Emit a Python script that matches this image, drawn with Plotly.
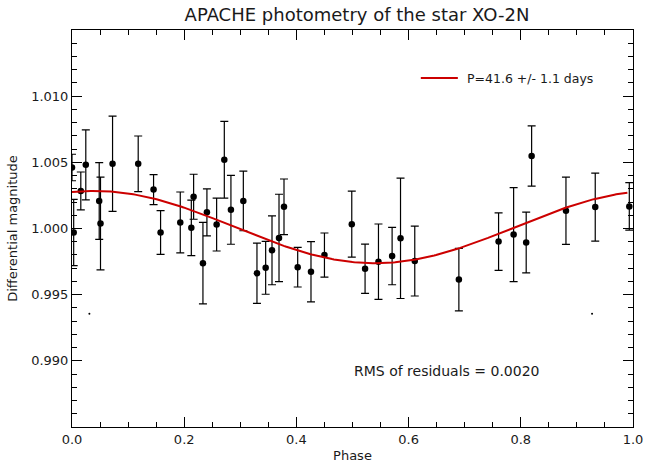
import numpy as np
import plotly.graph_objects as go

# ---- data ----
phase = [0.000, 0.003, 0.0157, 0.0246, 0.0485, 0.0508, 0.0723, 0.118, 0.1454, 0.1579,
         0.193, 0.2127, 0.2168, 0.2334, 0.2405, 0.2578, 0.2715, 0.2833, 0.3054, 0.3297,
         0.3452, 0.3565, 0.369, 0.3779, 0.4023, 0.426, 0.450, 0.4987, 0.5224, 0.5463,
         0.5706, 0.5856, 0.611, 0.6896, 0.7604, 0.7872, 0.8096, 0.8193, 0.8805, 0.9327,
         0.9934]
dmag = [1.00461, 0.99970, 1.00284, 1.00481, 1.00208, 1.00038, 1.00489, 1.00489, 1.00294, 0.99970,
        1.00046, 1.00005, 1.00240, 0.99738, 1.00122, 1.00030, 1.00520, 1.00141, 1.00208, 0.99662,
        0.99703, 0.99835, 0.99929, 1.00164, 0.99708, 0.99673, 0.99799, 1.00033, 0.99696, 0.99749,
        0.99792, 0.99926, 0.99754, 0.99614, 0.99901, 0.99954, 0.99894, 1.00548, 1.00134, 1.00162,
        1.00167]
err = [0.0010, 0.0025, 0.00143, 0.00264, 0.0029, 0.0035, 0.0036, 0.0021, 0.00113, 0.00165,
       0.0023, 0.0021, 0.0017, 0.00308, 0.00177, 0.0020, 0.0029, 0.0026, 0.00225, 0.00228,
       0.0020, 0.0026, 0.0033, 0.0021, 0.0015, 0.00228, 0.00167, 0.0025, 0.00186, 0.00285,
       0.00217, 0.00455, 0.00264, 0.00236, 0.00217, 0.00355, 0.0023, 0.00228, 0.00254, 0.00257,
       0.0018]
stray_phase = [0.031, 0.927]
stray_dmag = [0.99356, 0.99356]

# sinusoidal fit parameters
fit_mean = 1.00011
fit_amp = 0.00273
fit_phase_max = 0.04
fit_label = "P=41.6 +/- 1.1 days"
rms_text = "RMS of residuals = 0.0020"

x_ticks = [0.0, 0.2, 0.4, 0.6, 0.8, 1.0]
x_ticklabels = ["0.0", "0.2", "0.4", "0.6", "0.8", "1.0"]
y_ticks = [0.990, 0.995, 1.000, 1.005, 1.010]
y_ticklabels = ["0.990", "0.995", "1.000", "1.005", "1.010"]

fx = np.linspace(0.0, 0.99, 300)
fy = fit_mean + fit_amp * np.cos(2 * np.pi * (fx - fit_phase_max))

FONT = "DejaVu Sans"
TXT = "#1a1a1a"
fig = go.Figure()
fig.add_trace(go.Scatter(
    x=phase, y=dmag, mode="markers",
    marker=dict(color="black", size=6.5),
    error_y=dict(type="data", array=err, visible=True, color="black", thickness=1.2, width=4),
    showlegend=False))
fig.add_trace(go.Scatter(
    x=stray_phase, y=stray_dmag, mode="markers",
    marker=dict(color="black", size=2), showlegend=False))
fig.add_trace(go.Scatter(
    x=fx, y=fy, mode="lines", line=dict(color="#cc0000", width=2),
    name=fit_label, showlegend=False))

axis_common = dict(
    showline=True, linecolor="black", linewidth=1, mirror="ticks",
    ticks="inside", ticklen=10, tickcolor="black", tickwidth=1,
    showgrid=False, zeroline=False, automargin=False,
    tickfont=dict(family=FONT, size=13, color=TXT),
)
fig.update_xaxes(range=[0, 1], tickvals=x_ticks, ticktext=x_ticklabels,
                 minor=dict(dtick=0.05, ticks="inside", ticklen=5, tickcolor="black"),
                 title=dict(text="Phase", font=dict(family=FONT, size=13, color=TXT), standoff=5),
                 **axis_common)
fig.update_yaxes(range=[0.985, 1.015], tickvals=y_ticks, ticktext=y_ticklabels,
                 minor=dict(dtick=0.001, ticks="inside", ticklen=5, tickcolor="black"),
                 title=dict(text="Differential magnitude", font=dict(family=FONT, size=13, color=TXT), standoff=10),
                 **axis_common)

# legend drawn as a line sample plus its label
fig.add_shape(type="line", xref="paper", yref="paper",
              x0=(421 - 72.5) / 560.5, x1=(458 - 72.5) / 560.5, y0=0.879, y1=0.879,
              line=dict(color="#cc0000", width=2))
fig.add_annotation(x=(465 - 72.5) / 560.5, y=0.879, xref="paper", yref="paper", text=fit_label,
                   showarrow=False, xanchor="left", yanchor="middle",
                   font=dict(family=FONT, size=12.5, color=TXT))

fig.add_annotation(x=0.668, y=0.98922, xref="x", yref="y", text=rms_text, showarrow=False,
                   xanchor="center", yanchor="middle",
                   font=dict(family=FONT, size=14, color=TXT))

fig.update_layout(
    width=645, height=468,
    margin=dict(l=72, r=12, t=30, b=41),
    paper_bgcolor="white", plot_bgcolor="white",
    title=dict(text="APACHE photometry of the star XO-2N", x=(357 - 72) / 561, xref="paper",
               xanchor="center", y=1 - 15 / 468, yanchor="middle",
               font=dict(family=FONT, size=18, color=TXT)),
    showlegend=False,
)
fig.write_html("out.html", config={"displayModeBar": False},
               post_script="document.body.style.margin='0';document.body.style.overflow='hidden';")
